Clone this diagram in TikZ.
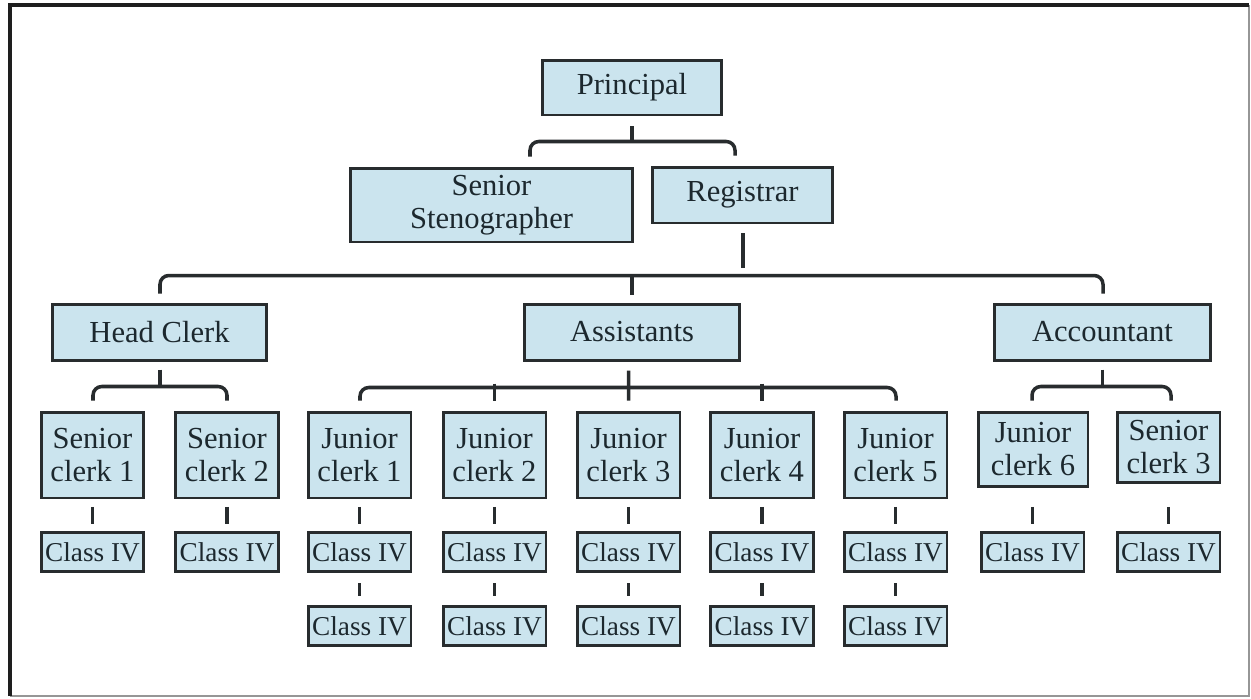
\documentclass[tikz,border=0pt]{standalone}
\usepackage{fontspec}
\setmainfont{Liberation Serif}
\usetikzlibrary{calc}
\definecolor{boxfill}{RGB}{203,228,238}
\definecolor{boxline}{RGB}{40,44,46}
\definecolor{txt}{RGB}{28,40,46}
\definecolor{framedark}{RGB}{30,30,30}
\definecolor{framelight}{RGB}{150,150,150}
\tikzset{
  box/.style={draw=boxline, fill=boxfill, line width=1.7pt, text=txt, inner sep=0pt,
    align=center, font=\fontsize{17.4}{19}\selectfont},
  topbox/.style={box, minimum height=1.12cm},
  clerk/.style={box, minimum width=2.06cm, minimum height=1.72cm},
  cls/.style={box, minimum width=2.06cm, minimum height=0.79cm, font=\fontsize{15.5}{17}\selectfont},
  conn/.style={draw=boxline, line width=2pt},
  elbow/.style={conn, rounded corners=5pt},
}
\begin{document}
\begin{tikzpicture}[x=0.02cm, y=-0.02cm]
\useasboundingbox (0,0) rectangle (1251,698);
\fill[white] (0,0) rectangle (1251,698);
% frame
\draw[framelight, line width=1.2pt] (1249,5) -- (1249,696) -- (10,696);
\draw[framedark, line width=1.9pt] (10,696) -- (10,5) -- (1249,5);

% level 1-2
\node[box, minimum width=3.6cm, minimum height=1.1cm] (prin) at (632,87.5) {Principal};
\node[box, minimum width=5.66cm, minimum height=1.48cm] (steno) at (491.5,205) {Senior\\Stenographer};
\node[box, minimum width=3.62cm, minimum height=1.12cm] (reg) at (742.5,195) {Registrar};

% level 3
\node[topbox, minimum width=4.3cm] (head) at (159.5,332) {Head Clerk};
\node[topbox, minimum width=4.32cm] (asst) at (632,332) {Assistants};
\node[topbox, minimum width=4.34cm] (acct) at (1102.5,332) {Accountant};

% level 4
\node[clerk] (sc1) at (92.5,455) {Senior\\clerk 1};
\node[clerk] (sc2) at (227,455) {Senior\\clerk 2};
\node[clerk] (j1) at (359.5,455) {Junior\\clerk 1};
\node[clerk] (j2) at (494.5,455) {Junior\\clerk 2};
\node[clerk] (j3) at (628.5,455) {Junior\\clerk 3};
\node[clerk] (j4) at (762,455) {Junior\\clerk 4};
\node[clerk] (j5) at (895.5,455) {Junior\\clerk 5};
\node[box, minimum width=2.2cm, minimum height=1.48cm] (j6) at (1033,449) {Junior\\clerk 6};
\node[box, minimum width=2.06cm, minimum height=1.4cm] (sc3) at (1168.5,447) {Senior\\clerk 3};

% Class IV rows
\foreach \n/\x in {sc1/92.5, sc2/227, j1/359.5, j2/494.5, j3/628.5, j4/762, j5/895.5, j6/1032.5, sc3/1168.5}{
  \node[cls] (c\n) at (\x,552) {Class IV};
  \draw[conn] ($(c\n.north)+(0,-24)$) -- ($(c\n.north)+(0,-7)$);
}
\foreach \n/\x in {j1/359.5, j2/494.5, j3/628.5, j4/762, j5/895.5}{
  \node[cls] (d\n) at (\x,626) {Class IV};
  \draw[conn] ($(c\n.south)+(0,10)$) -- ($(d\n.north)+(0,-9)$);
}

% connectors: principal
\draw[conn] ($(prin.south)+(0,10)$) -- ($(prin.south)+(0,25)$);
\draw[elbow] ($(steno.north)+(38.5,-10)$) |- ($(prin.south)+(0,25)$) -| ($(reg.north)+(-7.5,-10)$);

% registrar
\draw[conn] ($(reg.south)+(0.5,9)$) -- ($(reg.south)+(0.5,44)$);
\draw[elbow] ($(head.north)+(0.5,-9)$) |- ($(asst.north)+(0,-27)$) -| ($(acct.north)+(0.5,-9)$);
\draw[conn] ($(asst.north)+(0,-27)$) -- ($(asst.north)+(0,-8)$);

% head clerk
\draw[conn] ($(head.south)+(0.5,8)$) -- ($(head.south)+(0.5,25)$);
\draw[elbow] ($(sc1.north)+(0.5,-10)$) |- ($(head.south)+(0,25)$) -| ($(sc2.north)+(0,-10)$);

% assistants
\draw[conn] ($(asst.south)+(-3.5,9)$) -- ($(j3.north)+(0,-10)$);
\draw[elbow] ($(j1.north)+(0.5,-10)$) |- ($(asst.south)+(0,26)$) -| ($(j5.north)+(0.5,-10)$);
\draw[conn] ($(j2.north)+(0,-27)$) -- ($(j2.north)+(0,-10)$);
\draw[conn] ($(j4.north)+(0,-27)$) -- ($(j4.north)+(0,-10)$);

% accountant
\draw[conn] ($(acct.south)+(0,8)$) -- ($(acct.south)+(0,25)$);
\draw[elbow] ($(j6.north)+(-1,-10)$) |- ($(acct.south)+(0,25)$) -| ($(sc3.north)+(2.5,-10)$);
\end{tikzpicture}
\end{document}
